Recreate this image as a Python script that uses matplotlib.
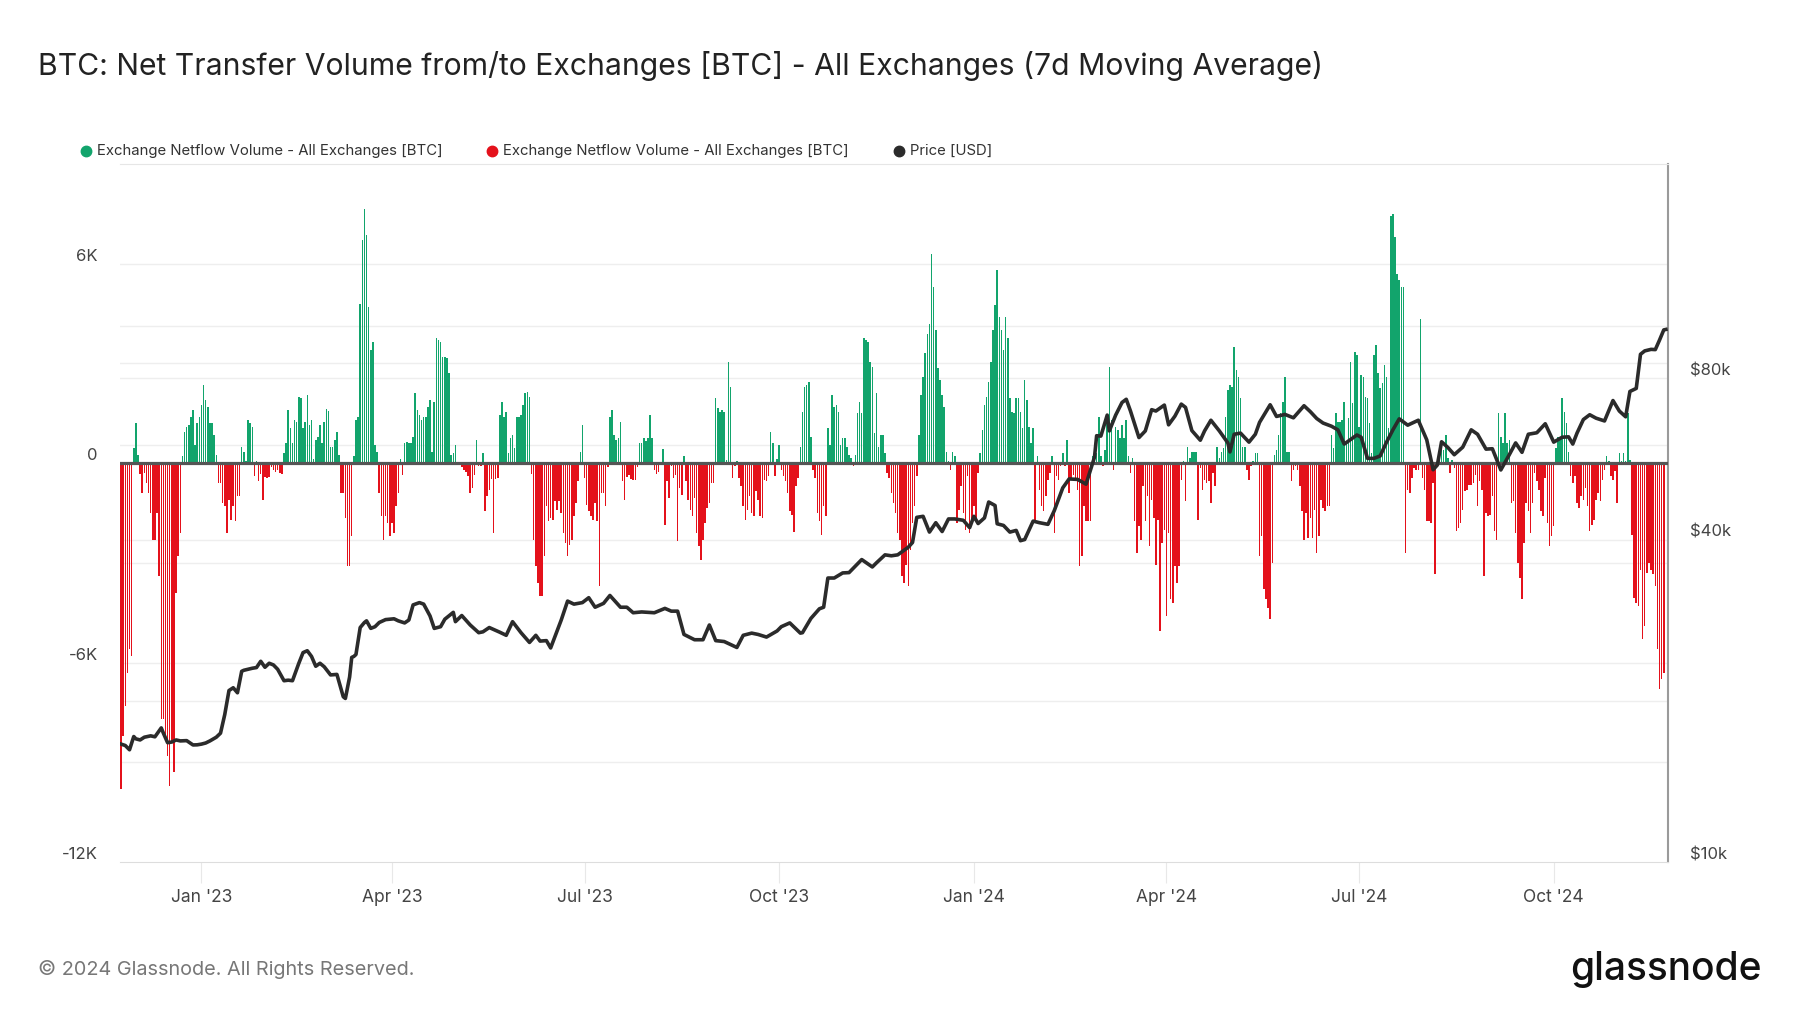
import numpy as np
import pandas as pd
import matplotlib
matplotlib.use('Agg')
import matplotlib.pyplot as plt
from matplotlib.lines import Line2D
from matplotlib.ticker import NullLocator
from matplotlib.transforms import ScaledTranslation, blended_transform_factory

plt.rcParams['font.family'] = ['Inter', 'DejaVu Sans']

# daily 7d MA netflow [BTC], first bar = 2022-11-24
start_date = '2022-11-24'
netflow = [
    -9800, -8200, -7300, -6300, -5600, -5800, 450, 1200, 250, -330,
    -900, -300, -600, -900, -1500, -2300, -2300, -1500, -3400, -7700,
    -7700, -8300, -8800, -9700, -8400, -9300, -3900, -2800, -2100, 200,
    950, 1100, 1150, 1400, 1600, 550, 1200, 1400, 1750, 2350,
    1900, 1700, 1200, 1200, 850, 250, -600, -600, -1200, -1300,
    -2100, -1100, -1700, -1300, -1750, -1000, -1000, 500, 350, 50,
    1300, 1200, 1100, -400, 50, -550, -330, -1100, -430, -450,
    -430, -130, -200, -260, -200, -290, -330, 300, 600, 1600,
    1050, 620, 1300, 1250, 2000, 1950, 1050, 1250, 2050, 1150,
    1300, 120, 700, 780, 1150, 620, 1230, 1630, 1570, 500,
    500, 700, 950, 250, -900, -900, -1650, -3100, -3100, -2200,
    200, 1300, 1400, 4800, 6700, 7650, 6850, 4700, 3400, 3650,
    550, 350, -900, -1600, -2300, -1600, -1800, -2200, -1800, -2100,
    -1300, -900, 120, -370, 600, 650, 620, 600, 800, 2100,
    1600, 1450, 1300, 1400, 1400, 1700, 1900, 350, 1850, 3750,
    3700, 3650, 3200, 3200, 3150, 2700, 250, 300, 550, -50,
    -70, -130, -200, -260, -400, -900, -750, -350, 700, -100,
    -100, 300, -1450, -1000, -800, -470, -2100, -470, -450, 1450,
    1850, 1400, 1550, 300, 750, 850, 450, 1400, 1400, 1450,
    1750, 2100, 2150, 2000, -330, -2300, -3100, -3600, -4000, -4000,
    -2800, -1300, -1750, -1650, -1700, -1150, -1400, -1150, -1500, -2100,
    -2400, -2800, -2450, -2300, -1600, -1200, -550, 350, 1150, -450,
    -1250, -1450, -1600, -1700, -1200, -1750, -3700, -900, -900, -1300,
    -120, 1400, 1600, 850, 700, 770, 1250, -550, -1100, -430,
    -370, -470, -500, -500, -120, 600, 600, 750, 680, 760,
    1450, 770, -200, -330, -260, -50, 430, -1850, -550, -1050,
    -100, -450, -350, -2350, -750, -950, 200, -550, -1100, -1400,
    -1600, -1050, -2100, -2500, -2900, -2300, -1800, -1350, -1200, -600,
    -600, 1950, 1650, 1550, 1600, 1550, 100, 3030, 2300, -450,
    -100, 50, -450, -700, -1300, -1700, -1400, -1000, -1500, -1600,
    -850, -1100, -1600, -1650, -500, -550, -400, 950, 600, -400,
    120, 550, -200, -400, -550, -900, -1450, -1550, -2060, -700,
    -450, 500, 1550, 2300, 2350, 2450, 800, -200, -450, -1500,
    -1750, -2150, -1300, -1600, 1050, 550, 2050, 1700, 1750, 1550,
    550, 750, 750, 500, 250, 150, -100, 250, 1500, 1850,
    1500, 3750, 3700, 3630, 3050, 2900, 900, 2100, 500, 850,
    850, 300, -300, -450, -900, -1200, -1500, -2100, -2300, -3400,
    -3600, -3050, -3700, -2600, -1800, -1300, -400, 850, 2050, 2600,
    3300, 3900, 4200, 6300, 5300, 4000, 2850, 2500, 2050, 1700,
    350, 50, -200, 350, 200, -1800, -1400, -700, -1500, -2000,
    -400, -2100, -1800, -1300, -1700, -300, 300, 1000, 1750, 2000,
    2450, 3050, 4000, 4750, 5800, 4400, 4000, 3400, 4400, 3750,
    1950, 1550, 1500, 1950, 1950, 1550, 1050, 2500, 1900, 1100,
    600, 1050, -1700, 200, -800, -1300, -1450, -1000, -500, -300,
    200, -2100, -400, -500, -100, 300, -100, 700, -900, -500,
    -350, -500, -800, -3100, -2800, -1300, -1750, -1750, -1750, 200,
    500, 300, 1400, 200, -100, 400, 1400, 2900, 1300, -200,
    1100, 1000, 750, 1150, 750, 1300, 200, -300, 150, -1750,
    -2700, -1900, -2300, -700, -1750, -1000, -2500, -1100, -1650, -3050,
    -1700, -5050, -2400, -2000, -4600, -2100, -4100, -4200, -3100, -3600,
    -3100, -500, 50, -1150, 500, 150, 350, 350, 350, -1700,
    -150, -800, -500, -600, -550, -1200, -300, -700, 500, 150,
    350, 450, 1400, 2200, 2350, 2300, 3500, 2800, 2600, 1950,
    500, 500, -200, -500, -100, 50, 300, 300, -2800, -2200,
    -3800, -4100, -4350, -4700, -3000, 250, 400, 850, 1500, 1850,
    2600, 350, 350, -550, -200, -100, -200, -700, -1450, -2300,
    -1500, -2250, -1650, -2250, -1400, -2700, -2200, -1100, -1350, -1450,
    -1300, -1300, 850, 450, 1500, 1250, 1250, 1300, 1850, 600,
    1350, 3050, 1800, 3350, 3250, 1100, 2650, 2600, 2000, 1950,
    1200, 300, 3250, 3550, 2700, 2250, 2400, 2950, 2600, 1050,
    7450, 7500, 6800, 5700, 5500, 5300, 5300, -2700, -800, -900,
    -450, -150, -200, -200, 4350, -450, -800, -1750, -1750, -1800,
    -600, -3350, 100, 400, 500, 400, 850, 150, -300, 100,
    -150, -2050, -1950, -1800, -1400, -850, -800, -650, -650, -600,
    -350, -1300, -550, -800, -3400, -1500, -1600, -1550, -1000, -2050,
    -2300, 1500, 800, 600, 1500, 600, 700, -1200, -1150, -2100,
    -3000, -3450, -4100, -2400, -1200, -1450, -2100, -1200, -300, -550,
    -800, -1450, -1600, -450, -1800, -2500, -2200, -1900, 450, 800,
    800, 1950, 1550, 1200, 350, -400, -600, -400, -1200, -1350,
    -1000, -1100, -750, -1300, -2050, -1850, -1700, -1100, -900, -1150,
    -500, -200, 200, 50, -400, -500, -250, -1200, 300, 50,
    300, 50, 1500, 100, -2150, -4050, -4200, -4300, -3200, -5300,
    -4900, -3300, -3000, -3200, -3350, -3700, -5600, -6800, -6500, -6300,
]

# BTC price [USD], one line per month
price_dates = [
    '2022-11-24', '2022-11-26', '2022-11-28', '2022-11-30',
    '2022-12-01', '2022-12-03', '2022-12-05', '2022-12-08', '2022-12-10', '2022-12-13', '2022-12-14',
    '2022-12-16', '2022-12-18', '2022-12-20', '2022-12-22', '2022-12-25', '2022-12-28', '2022-12-30',
    '2023-01-01', '2023-01-03', '2023-01-05', '2023-01-08', '2023-01-10', '2023-01-12', '2023-01-14',
    '2023-01-16', '2023-01-18', '2023-01-20', '2023-01-21', '2023-01-23', '2023-01-25', '2023-01-27',
    '2023-01-29', '2023-01-31',
    '2023-02-02', '2023-02-04', '2023-02-06', '2023-02-09', '2023-02-11', '2023-02-13', '2023-02-16',
    '2023-02-18', '2023-02-20', '2023-02-22', '2023-02-24', '2023-02-26', '2023-02-28',
    '2023-03-03', '2023-03-06', '2023-03-09', '2023-03-10', '2023-03-12', '2023-03-13', '2023-03-14',
    '2023-03-15', '2023-03-17', '2023-03-19', '2023-03-20', '2023-03-22', '2023-03-24', '2023-03-26',
    '2023-03-29',
    '2023-04-02', '2023-04-04', '2023-04-07', '2023-04-09', '2023-04-11', '2023-04-14', '2023-04-16',
    '2023-04-19', '2023-04-21', '2023-04-24', '2023-04-26', '2023-04-30',
    '2023-05-01', '2023-05-04', '2023-05-08', '2023-05-12', '2023-05-14', '2023-05-17', '2023-05-22',
    '2023-05-25', '2023-05-28',
    '2023-06-01', '2023-06-05', '2023-06-08', '2023-06-10', '2023-06-13', '2023-06-15', '2023-06-20',
    '2023-06-23', '2023-06-26', '2023-06-30',
    '2023-07-03', '2023-07-06', '2023-07-10', '2023-07-13', '2023-07-18', '2023-07-21', '2023-07-24',
    '2023-07-28', '2023-07-31',
    '2023-08-03', '2023-08-08', '2023-08-11', '2023-08-14', '2023-08-17', '2023-08-22', '2023-08-26',
    '2023-08-29',
    '2023-09-01', '2023-09-05', '2023-09-11', '2023-09-14', '2023-09-18', '2023-09-21', '2023-09-25',
    '2023-09-30',
    '2023-10-02', '2023-10-06', '2023-10-11', '2023-10-12', '2023-10-16', '2023-10-20', '2023-10-22',
    '2023-10-24', '2023-10-27', '2023-10-31',
    '2023-11-03', '2023-11-09', '2023-11-14', '2023-11-16', '2023-11-20', '2023-11-23', '2023-11-26',
    '2023-12-01', '2023-12-03', '2023-12-05', '2023-12-08', '2023-12-11', '2023-12-14', '2023-12-17',
    '2023-12-20', '2023-12-23', '2023-12-27', '2023-12-30',
    '2024-01-01', '2024-01-03', '2024-01-06', '2024-01-08', '2024-01-11', '2024-01-12', '2024-01-15',
    '2024-01-18', '2024-01-21', '2024-01-23', '2024-01-25', '2024-01-29',
    '2024-02-01', '2024-02-05', '2024-02-08', '2024-02-12', '2024-02-15', '2024-02-19', '2024-02-23',
    '2024-02-27', '2024-02-28',
    '2024-03-01', '2024-03-04', '2024-03-05', '2024-03-08', '2024-03-11', '2024-03-13', '2024-03-15',
    '2024-03-19', '2024-03-22', '2024-03-25', '2024-03-27', '2024-03-31',
    '2024-04-02', '2024-04-05', '2024-04-08', '2024-04-10', '2024-04-13', '2024-04-17', '2024-04-19',
    '2024-04-22', '2024-04-26', '2024-04-30',
    '2024-05-01', '2024-05-03', '2024-05-06', '2024-05-10', '2024-05-13', '2024-05-15', '2024-05-20',
    '2024-05-23', '2024-05-27', '2024-05-31',
    '2024-06-05', '2024-06-08', '2024-06-11', '2024-06-14', '2024-06-18', '2024-06-21', '2024-06-24',
    '2024-06-30',
    '2024-07-02', '2024-07-05', '2024-07-08', '2024-07-11', '2024-07-14', '2024-07-17', '2024-07-20',
    '2024-07-24', '2024-07-29',
    '2024-08-02', '2024-08-05', '2024-08-07', '2024-08-09', '2024-08-12', '2024-08-15', '2024-08-19',
    '2024-08-23', '2024-08-26', '2024-08-30',
    '2024-09-02', '2024-09-06', '2024-09-10', '2024-09-13', '2024-09-16', '2024-09-19', '2024-09-23',
    '2024-09-27',
    '2024-10-01', '2024-10-05', '2024-10-08', '2024-10-10', '2024-10-12', '2024-10-15', '2024-10-18',
    '2024-10-21', '2024-10-25', '2024-10-29',
    '2024-11-01', '2024-11-04', '2024-11-06', '2024-11-09', '2024-11-11', '2024-11-13', '2024-11-16',
    '2024-11-18', '2024-11-20', '2024-11-22', '2024-11-23',
]
price_usd = [
    16600, 16500, 16200, 17150,
    16980, 16900, 17100, 17200, 17130, 17800, 17400,
    16700, 16750, 16900, 16830, 16850, 16540, 16550,
    16600, 16680, 16830, 17100, 17400, 18850, 20900,
    21150, 20700, 22700, 22800, 22900, 23000, 23070,
    23700, 23100,
    23500, 23330, 22900, 21800, 21850, 21800, 23500,
    24600, 24800, 24200, 23200, 23500, 23150,
    22350, 22400, 20350, 20200, 22150, 24100, 24200,
    24400, 27400, 28000, 28200, 27300, 27500, 28000,
    28350,
    28450, 28200, 27950, 28300, 30200, 30500, 30300,
    28800, 27300, 27500, 28400, 29250,
    28100, 28850, 27700, 26800, 26900, 27400, 26850,
    26500, 28100,
    26800, 25700, 26500, 25850, 25900, 25100, 28300,
    30700, 30300, 30500,
    31150, 29900, 30400, 31450, 29900, 29900, 29200,
    29300, 29250,
    29200, 29750, 29400, 29400, 26600, 26000, 26000,
    27700,
    25900, 25800, 25150, 26500, 26750, 26600, 26300,
    27000,
    27500, 27950, 26750, 26800, 28500, 29700, 29900,
    33900, 33900, 34650,
    34700, 36700, 35550, 36200, 37450, 37300, 37450,
    38700, 39500, 44000, 44200, 41300, 43000, 41400,
    43700, 43700, 43450, 42100,
    44200, 42850, 43900, 47000, 46300, 42800, 42500,
    41300, 41600, 39800, 40000, 43300,
    43000, 42700, 45300, 49950, 51900, 51800, 50750,
    57000, 62500,
    62400, 68300, 63800, 68300, 72100, 73100, 69500,
    62000, 63800, 69900, 69500, 71300,
    65500, 68000, 71600, 70600, 63900, 61300, 63800,
    66800, 63800, 60600,
    58300, 62900, 63200, 60800, 62900, 66200, 71400,
    67900, 68500, 67500,
    71100, 69300, 67300, 66000, 65100, 64100, 60300,
    62700,
    62100, 56700, 56700, 57300, 60800, 64100, 67200,
    65400, 66800,
    61400, 54000, 55100, 60900, 59400, 57600, 59500,
    64100, 62900, 59000,
    59100, 53950, 57600, 60600, 58200, 62900, 63300,
    65800,
    60800, 62100, 62200, 60300, 63200, 67000, 68400,
    67400, 66600, 72700,
    69500, 67800, 75600, 76600, 88700, 90000, 90600,
    90500, 94300, 98500, 98700,
]

left_ticks = [-12000, -6000, 0, 6000]
left_labels = ['-12K', '-6K', '0', '6K']
left_grid = [-9000, -6000, -3000, 3000, 6000]
right_ticks = [10000, 40000, 80000]
right_labels = ['$10k', '$40k', '$80k']
right_grid = [20000, 40000, 60000, 80000, 100000]
month_ticks = ['2023-01-01', '2023-04-01', '2023-07-01', '2023-10-01',
               '2024-01-01', '2024-04-01', '2024-07-01', '2024-10-01']
month_labels = ["Jan '23", "Apr '23", "Jul '23", "Oct '23",
                "Jan '24", "Apr '24", "Jul '24", "Oct '24"]

GREEN = '#12a46c'
RED = '#e4111b'
TXT = '#444444'

W, H = 1800, 1013
fig = plt.figure(figsize=(W / 100, H / 100), dpi=100)
ax = fig.add_axes([120 / W, 1 - 862 / H, 1548 / W, 698 / H])

days = pd.date_range(start_date, periods=len(netflow), freq='D')
vals = np.array(netflow)
ax.bar(days, vals, width=0.72, color=np.where(vals >= 0, GREEN, RED),
       linewidth=0, antialiased=False, zorder=2)
ax.axhline(0, color='#555555', lw=2.3, zorder=3)
ax.set_ylim(-12000, 9000)
ax.set_xlim(pd.Timestamp('2022-11-23 12:00'), pd.Timestamp('2024-11-24'))

ax2 = ax.twinx()
ax2.set_yscale('log')
ax2.set_ylim(10000, 201000)
ax2.plot(pd.to_datetime(price_dates), price_usd, color='#2b2b2b', lw=2.6,
         solid_joinstyle='round', zorder=4)

# light horizontal grid (left values + right log values), behind bars
for v in left_grid:
    ax.axhline(v, color='#eeeeee', lw=1, zorder=0)
tr = blended_transform_factory(ax.transAxes, ax2.transData)
for v in right_grid:
    ax.plot([0, 1], [v, v], transform=tr, color='#eeeeee', lw=1, zorder=0)

for a in (ax, ax2):
    for s in a.spines.values():
        s.set_visible(False)
ax.spines['top'].set_visible(True)
ax.spines['top'].set_color('#e6e6e6')
ax.spines['bottom'].set_visible(True)
ax.spines['bottom'].set_color('#dddddd')
ax.spines['right'].set_visible(True)
ax.spines['right'].set_color('#9a9a9a')
ax.spines['right'].set_linewidth(1.5)

up = ScaledTranslation(0, 9 / 100, fig.dpi_scale_trans)
ax.set_yticks(left_ticks, left_labels)
ax.tick_params(axis='y', length=0, pad=16, labelsize=12, labelcolor=TXT)
for lbl in ax.get_yticklabels():
    lbl.set_transform(lbl.get_transform() + up)

ax2.set_yticks(right_ticks, right_labels)
ax2.yaxis.set_minor_locator(NullLocator())
ax2.tick_params(axis='y', length=0, pad=16, labelsize=12, labelcolor=TXT)
for lbl in ax2.get_yticklabels():
    lbl.set_transform(lbl.get_transform() + up)

ax.set_xticks(pd.to_datetime(month_ticks), month_labels)
ax.tick_params(axis='x', length=15, color='#e8e8e8', pad=4.5, labelsize=12.5,
               labelcolor=TXT)

fig.text(38 / W, 1 - 66 / H,
         'BTC: Net Transfer Volume from/to Exchanges [BTC] - All Exchanges (7d Moving Average)',
         fontsize=21.7, color='#222222', va='center')

legend_items = [(86, GREEN, 'Exchange Netflow Volume - All Exchanges [BTC]'),
                (492, RED, 'Exchange Netflow Volume - All Exchanges [BTC]'),
                (899, '#2b2b2b', 'Price [USD]')]
ly = 1 - 151 / H
for x, c, t in legend_items:
    fig.add_artist(Line2D([x / W], [ly], marker='o', markersize=7.5, color=c,
                          transform=fig.transFigure))
    fig.text((x + 11) / W, ly, t, fontsize=10.75, color='#333333', va='center')

fig.text(38 / W, 1 - 969 / H, '\u00a9 2024 Glassnode. All Rights Reserved.',
         fontsize=14.3, color='#777777', va='center')
fig.text(1762 / W, 1 - 970 / H, 'glassnode', fontsize=28, fontweight='medium',
         color='#111111', ha='right', va='center')

fig.savefig('out.png', dpi=100)
